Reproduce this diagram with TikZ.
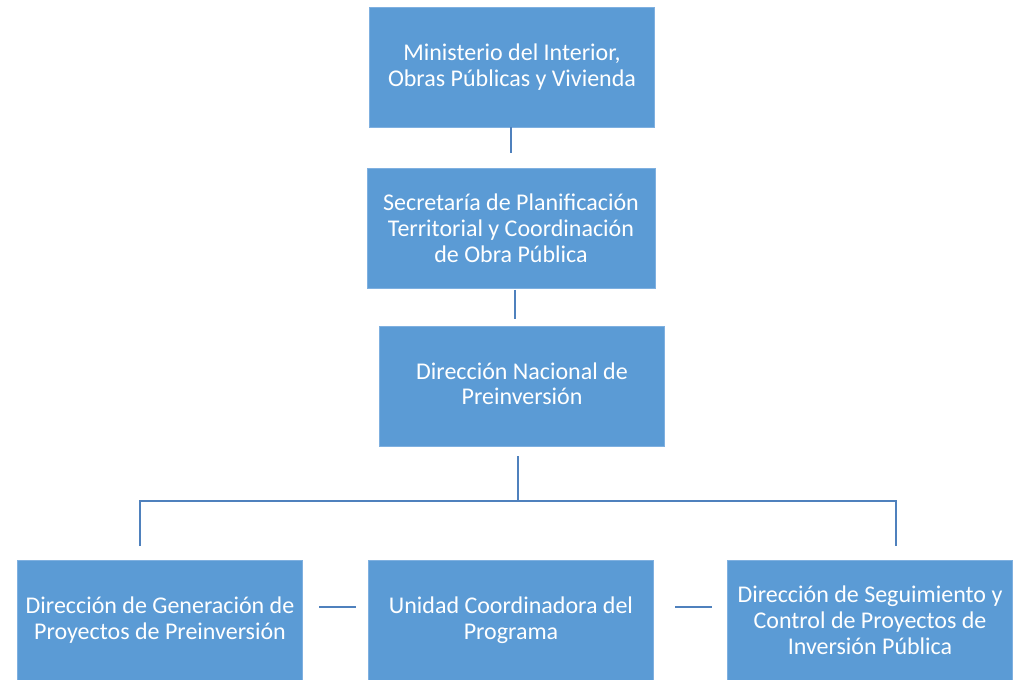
\documentclass[tikz,border=0pt]{standalone}
\usepackage{fontspec}
\setmainfont{Carlito}
\definecolor{boxblue}{HTML}{5B9BD5}
\definecolor{edgeblue}{HTML}{7FB0E0}
\definecolor{lineblue}{HTML}{4F81BD}
\begin{document}
\begin{tikzpicture}[x=0.75pt,y=-0.75pt,
  orgbox/.style={draw=edgeblue,line width=0.6pt,fill=boxblue,text=white,
    minimum width=214pt,minimum height=90pt,inner sep=0pt,align=center,
    font=\fontsize{18}{19.6}\selectfont},
  conn/.style={draw=lineblue,line width=1.2pt}]
\useasboundingbox (0,0) rectangle (1019,680);
\node[orgbox] (b1) at (512,67) {Ministerio del Interior,\\Obras Públicas y Vivienda};
\node[orgbox,minimum width=216pt] (b2) at (511,228) {Secretaría de Planificación\\Territorial y Coordinación\\de Obra Pública};
\node[orgbox] (b3) at (522,386.5) {\raisebox{3pt}{\begin{tabular}{@{}c@{}}Dirección Nacional de\\[-1pt]Preinversión\end{tabular}}};
\node[orgbox] (b4) at (160,620) {Dirección de Generación de\\Proyectos de Preinversión};
\node[orgbox] (b5) at (511,620) {Unidad Coordinadora del\\Programa};
\node[orgbox] (b6) at (870,620) {Dirección de Seguimiento y\\Control de Proyectos de\\Inversión Pública};
% connectors
\coordinate (c1) at (511,153);
\draw[conn] (b1.south -| c1) -- (c1);
\coordinate (c2) at (515,290);
\coordinate (c2e) at (515,319);
\draw[conn] (c2) -- (c2e);
\coordinate (c3) at (518,456);
\coordinate (hm) at (518,501);
\coordinate (hl) at (140,501);
\coordinate (hr) at (896,501);
\coordinate (dl) at (140,546);
\coordinate (dr) at (896,546);
\draw[conn] (c3) -- (hm);
\draw[conn] (dl) -- (hl) -- (hr) -- (dr);
\coordinate (s1a) at (319,607);
\coordinate (s1b) at (356,607);
\coordinate (s2a) at (675,607);
\coordinate (s2b) at (712,607);
\draw[conn] (s1a) -- (s1b);
\draw[conn] (s2a) -- (s2b);
\end{tikzpicture}
\end{document}
